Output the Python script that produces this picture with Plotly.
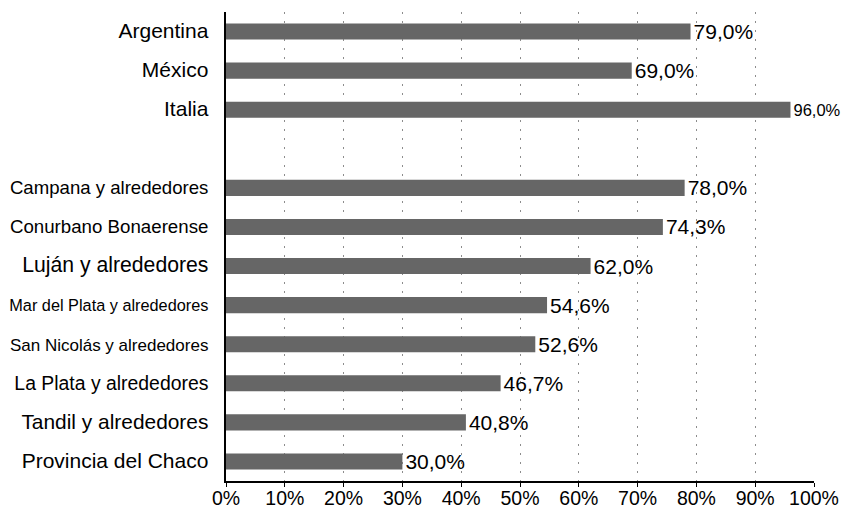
import plotly.graph_objects as go

# Share of respondents by country / region (percent)
categories = [
    "Argentina", "México", "Italia", " ",
    "Campana y alrededores", "Conurbano Bonaerense", "Luján y alrededores",
    "Mar del Plata y alrededores", "San Nicolás y alrededores",
    "La Plata y alrededores", "Tandil y alrededores", "Provincia del Chaco",
]
values = [79.0, 69.0, 96.0, None, 78.0, 74.3, 62.0, 54.6, 52.6, 46.7, 40.8, 30.0]

# per-label font sizes (axis labels and value labels)
label_sizes = [21, 21, 21, 18, 18.6, 18.7, 21.2, 16.3, 17, 19.4, 20.9, 21]
value_sizes = [21, 21, 16.5, 21, 21, 21, 21, 21, 21, 21, 21, 21]

x_ticks = list(range(0, 101, 10))
x_ticktext = [f"{t}%" for t in x_ticks]

FONT = "Liberation Sans, Arial, sans-serif"

ticktext = [f'<span style="font-size:{s}px">{c}</span>' for c, s in zip(categories, label_sizes)]

fig = go.Figure(
    go.Bar(
        x=values,
        y=categories,
        orientation="h",
        marker=dict(color="#666666", line=dict(width=0)),
        width=0.41,
        texttemplate="%{x:.1f}%",
        textposition="outside",
        textfont=dict(family=FONT, size=value_sizes, color="#000000"),
        constraintext="none",
        cliponaxis=False,
        hoverinfo="skip",
    )
)

fig.update_layout(
    width=845,
    height=512,
    margin=dict(l=226, r=31, t=12, b=31, autoexpand=False),
    paper_bgcolor="white",
    plot_bgcolor="white",
    separators=",.",
    showlegend=False,
    font=dict(family=FONT, color="#000000"),
)

fig.update_xaxes(
    range=[0, 100],
    tickvals=x_ticks,
    ticktext=x_ticktext,
    tickfont=dict(size=19.5, family=FONT, color="#000000"),
    showgrid=True,
    gridcolor="#8c8c8c",
    gridwidth=1,
    griddash="2px,7px",
    showline=True,
    linecolor="#000000",
    linewidth=2,
    ticks="outside",
    ticklen=4,
    tickwidth=1,
    tickcolor="#000000",
    ticklabelstandoff=-5,
    zeroline=False,
    automargin=False,
    fixedrange=True,
)

fig.update_yaxes(
    type="category",
    categoryorder="array",
    categoryarray=categories,
    tickvals=categories,
    ticktext=ticktext,
    autorange="reversed",
    showline=True,
    linecolor="#000000",
    linewidth=2,
    ticks="",
    ticklabelstandoff=12,
    tickfont=dict(family=FONT, size=18, color="#000000"),
    showgrid=False,
    zeroline=False,
    automargin=False,
    fixedrange=True,
)

fig.write_html("out.html")
